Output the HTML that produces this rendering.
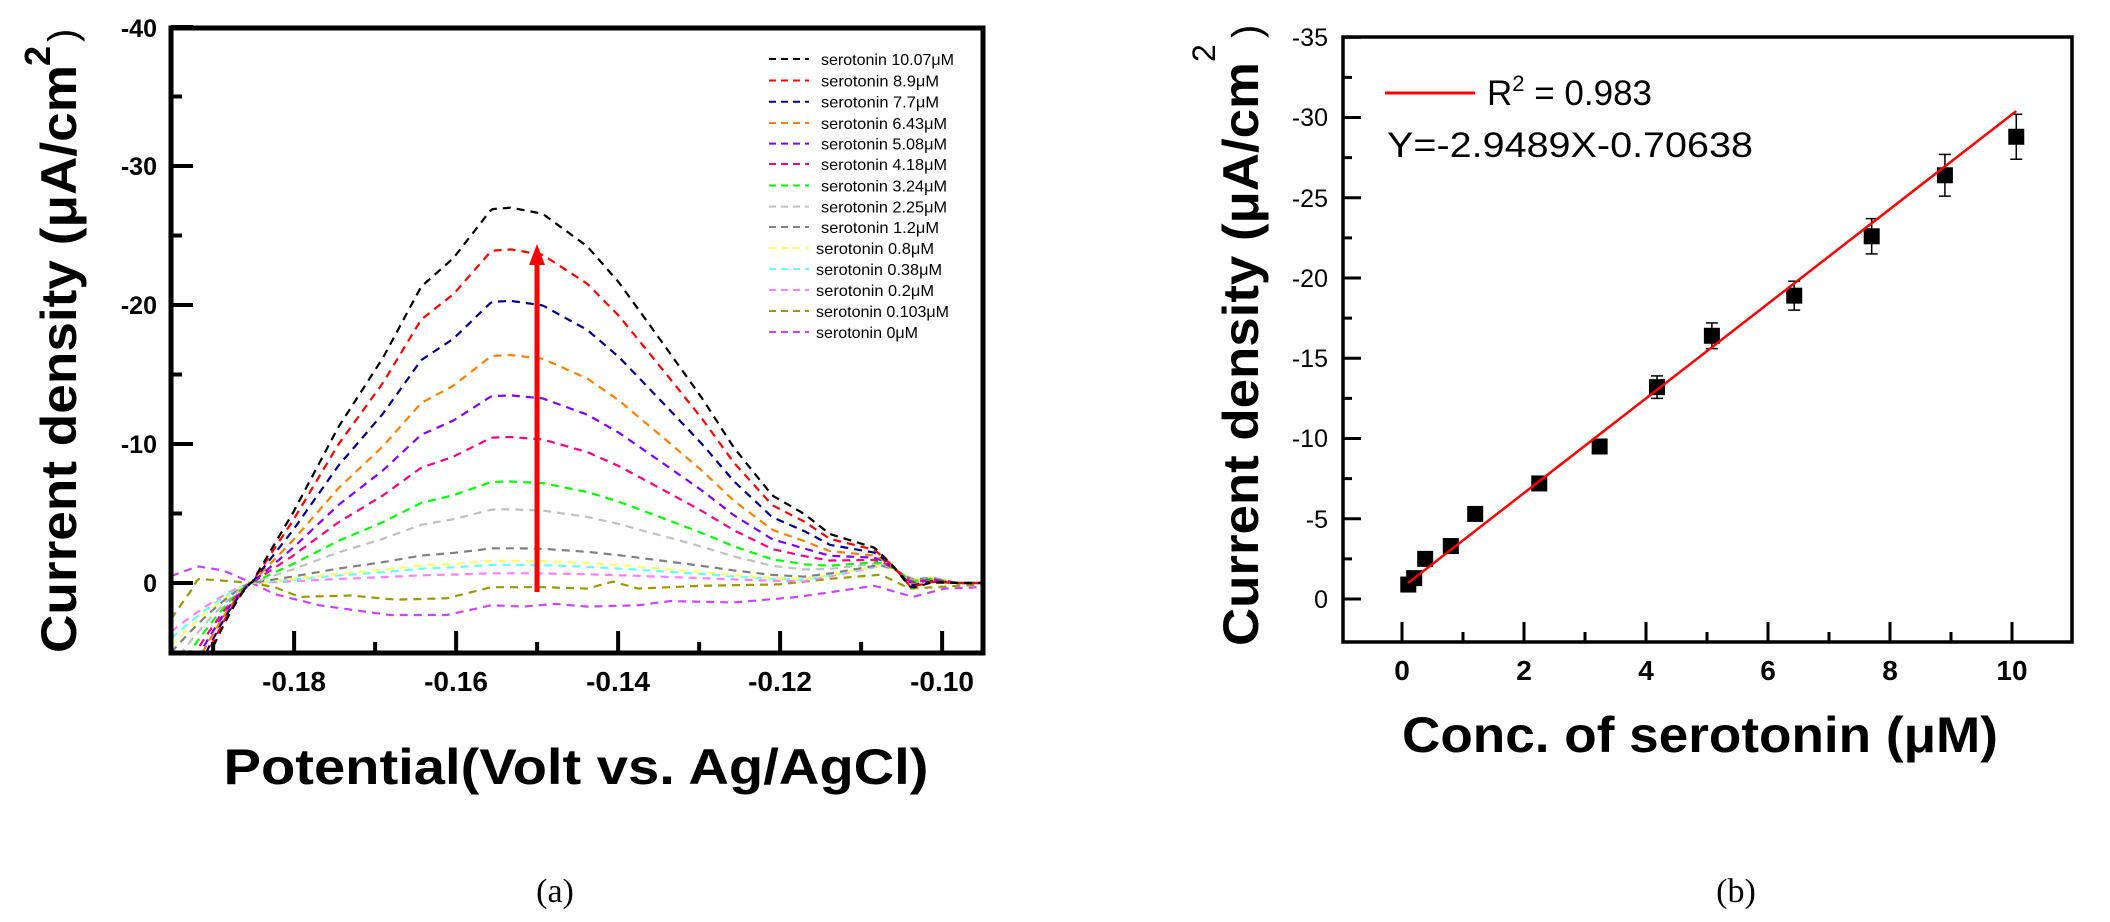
<!DOCTYPE html>
<html><head><meta charset="utf-8"><style>
html,body{margin:0;padding:0;background:#fff;}
svg{display:block;}
text{font-family:"Liberation Sans",sans-serif;}
text.serif{font-family:"Liberation Serif",serif;}
</style></head><body>
<svg id="s" width="2110" height="922" viewBox="0 0 2110 922" xmlns="http://www.w3.org/2000/svg">
<rect width="2110" height="922" fill="#fff"/>
<defs>
<clipPath id="cl"><rect x="171" y="28" width="812" height="625"/></clipPath>
</defs>
<g id="curves" clip-path="url(#cl)"></g>
<!-- arrow -->
<line x1="537" y1="592" x2="537" y2="262" stroke="#ff0000" stroke-width="5"/>
<polygon points="529,265 545,265 537,244" fill="#ff0000"/>
<!-- left frame -->
<rect x="171" y="28" width="812" height="625" fill="none" stroke="#000" stroke-width="5"/>
<g id="lticks" stroke="#000" stroke-width="4"></g>
<g font-weight="bold" font-size="25" text-anchor="end">
<text x="157" y="37">-40</text>
<text x="157" y="175">-30</text>
<text x="157" y="314">-20</text>
<text x="157" y="453">-10</text>
<text x="157" y="592">0</text>
</g>
<g font-weight="bold" font-size="28" text-anchor="middle">
<text x="294" y="691">-0.18</text>
<text x="456" y="691">-0.16</text>
<text x="618" y="691">-0.14</text>
<text x="780" y="691">-0.12</text>
<text x="942" y="691">-0.10</text>
</g>
<text x="576" y="784" font-weight="bold" font-size="50" text-anchor="middle" textLength="705" lengthAdjust="spacingAndGlyphs">Potential(Volt vs. Ag/AgCl)</text>
<text transform="translate(76,653) rotate(-90)" font-weight="bold" font-size="50" textLength="588" lengthAdjust="spacingAndGlyphs">Current density (μA/cm</text>
<text transform="translate(50,66) rotate(-90)" font-weight="bold" font-size="36">2</text>
<text transform="translate(76,42) rotate(-90)" font-size="40">)</text>
<text class="serif" x="555" y="902" font-size="34" text-anchor="middle">(a)</text>
<g id="legend" font-size="16"></g>

<!-- right plot -->
<rect x="1343" y="37" width="729" height="605" fill="none" stroke="#000" stroke-width="3.5"/>
<g id="rticks" stroke="#000" stroke-width="3"></g>
<g font-size="25" text-anchor="end">
<text x="1328" y="46">-35</text>
<text x="1328" y="126">-30</text>
<text x="1328" y="207">-25</text>
<text x="1328" y="287">-20</text>
<text x="1328" y="367">-15</text>
<text x="1328" y="447">-10</text>
<text x="1328" y="528">-5</text>
<text x="1328" y="608">0</text>
</g>
<g font-size="28" text-anchor="middle" font-weight="bold">
<text x="1402" y="680">0</text>
<text x="1524" y="680">2</text>
<text x="1646" y="680">4</text>
<text x="1768" y="680">6</text>
<text x="1890" y="680">8</text>
<text x="2012" y="680">10</text>
</g>
<text x="1700" y="752" font-weight="bold" font-size="50" text-anchor="middle" textLength="596" lengthAdjust="spacingAndGlyphs">Conc. of serotonin (μM)</text>
<text transform="translate(1258,646) rotate(-90)" font-weight="bold" font-size="50" textLength="584" lengthAdjust="spacingAndGlyphs">Current density (μA/cm</text>
<text transform="translate(1215,62) rotate(-90)" font-size="32">2</text>
<text transform="translate(1260,38) rotate(-90)" font-size="40">)</text>
<text class="serif" x="1736" y="902" font-size="34" text-anchor="middle">(b)</text>
<line x1="1385" y1="93" x2="1475" y2="93" stroke="#ff0000" stroke-width="3"/>
<text x="1487" y="105" font-size="35">R<tspan dy="-14" font-size="22">2</tspan><tspan dy="14"> = 0.983</tspan></text>
<text x="1387" y="157" font-size="35" textLength="366" lengthAdjust="spacingAndGlyphs">Y=-2.9489X-0.70638</text>
<g id="rdata"></g>
</svg>
<script>
var NS="http://www.w3.org/2000/svg";
function el(t,a,p){var e=document.createElementNS(NS,t);for(var k in a)e.setAttribute(k,a[k]);(p||document.getElementById('s')).appendChild(e);return e;}
var lt=document.getElementById('lticks');
function LX(v){return 171+(v+0.1952)/0.02*162;}
function LY(d){return 583-d*13.9;}
for(var v=-0.19;v<=-0.0995;v+=0.01){var x=LX(v);var maj=Math.abs(Math.round(v*100))%2==0;el('line',{x1:x,y1:653,x2:x,y2:653-(maj?22:11)},lt);}
for(var d=-5;d<=40;d+=5){var y=LY(d);var maj=d%10==0;el('line',{x1:171,y1:y,x2:171+(maj?22:11),y2:y},lt);}
var S=[[268,0],[395,0.002],[460,0.19],[530,0.415],[600,0.60],[660,0.79],[710,0.865],[770,0.996],[800,1],[850,0.984],[920,0.897],[970,0.8],[1040,0.635],[1100,0.492],[1150,0.36],[1210,0.233],[1260,0.184],[1300,0.129],[1370,0.09],[1400,0.04],[1425,0.0],[1540,0]];
function interp(arr,p){if(p<=arr[0][0])return arr[0][1];for(var i=1;i<arr.length;i++){if(p<=arr[i][0]){var a=arr[i-1],b=arr[i];return a[1]+(b[1]-a[1])*(p-a[0])/(b[0]-a[0]);}}return arr[arr.length-1][1];}
function tri(p,c,w){var t=1-Math.abs(p-c)/w;return t>0?t:0;}
var curves=[
['#000000',27.0,12],['#ff0000',24,11],['#00008b',20.3,10.5],['#ff8000',16.4,9.5],['#8000ff',13.5,9],['#ff0080',10.5,8],['#00ff00',7.3,7],['#c0c0c0',5.3,6],['#808080',2.5,5],['#ffff66',1.6,4.5],['#66ffff',1.3,4],['#ff80ff',0.7,3.5]];
var olive=[[268,-2.6],[300,-0.5],[310,0.3],[340,0.2],[395,0],[430,-0.3],[470,-1.0],[550,-0.9],[620,-1.2],[700,-1.1],[770,-0.3],[850,-0.3],[920,-0.4],[960,0.1],[1000,-0.4],[1100,-0.2],[1220,-0.1],[1300,0.3],[1380,0.6],[1425,-0.4],[1540,-0.1]];
var mag=[[268,0.5],[310,1.2],[350,0.9],[395,0],[430,-0.8],[500,-1.6],[610,-2.3],[700,-2.3],[770,-1.6],[820,-1.7],[870,-1.5],[920,-1.7],[1000,-1.6],[1050,-1.3],[1150,-1.4],[1250,-1.0],[1370,-0.2],[1430,-1.0],[1480,-0.4],[1540,-0.3]];
var g=document.getElementById('curves');
function pathFrom(fn){var s='';for(var p=268;p<=1545;p+=4){var x=171+(p-268)*0.6384;var y=LY(fn(p));s+=(s?'L':'M')+x.toFixed(1)+' '+y.toFixed(1);}return s;}
function draw(col,fn){el('path',{d:pathFrom(fn),fill:'none',stroke:col,'stroke-width':2.2,'stroke-dasharray':'8 6'},g);}
draw('#cc44ff',function(p){return interp(mag,p);});
draw('#999900',function(p){return interp(olive,p);});
for(var i=curves.length-1;i>=0;i--){(function(c){draw(c[0],function(p){var d=c[1]*interp(S,p);d+=1.2*tri(p,1380,120)*(1-c[1]/30);d-=0.4*tri(p,1430,30);if(p<395)d-=c[2]*Math.pow((395-p)/127,1.3);return d;});})(curves[i]);}
var lg=document.getElementById('legend');
var names=['serotonin 10.07μM','serotonin 8.9μM','serotonin 7.7μM','serotonin 6.43μM','serotonin 5.08μM','serotonin 4.18μM','serotonin 3.24μM','serotonin 2.25μM','serotonin 1.2μM','serotonin 0.8μM','serotonin 0.38μM','serotonin 0.2μM','serotonin 0.103μM','serotonin 0μM'];
var lcol=['#000000','#ff0000','#00008b','#ff8000','#8000ff','#ff0080','#00ff00','#c0c0c0','#808080','#ffff66','#66ffff','#ff80ff','#999900','#cc44ff'];
var rows=[59,80.5,101.7,123,143.6,164,185.5,206.6,227,248,269,290,311,332];
for(var i=0;i<14;i++){el('line',{x1:769,y1:rows[i],x2:809,y2:rows[i],stroke:lcol[i],'stroke-width':2,'stroke-dasharray':'7 5'},lg);
var t=el('text',{x:i<9?821:816,y:rows[i]+6,'font-size':16},lg);t.textContent=names[i];var L=names[i].length;t.setAttribute('textLength',(L*7.85).toFixed(0));t.setAttribute('lengthAdjust','spacingAndGlyphs');}
var rt=document.getElementById('rticks');
function RX(v){return 1402+v*61;}function RY(d){return 599-d*16.05;}
for(var v=0;v<=10;v++){el('line',{x1:RX(v),y1:642,x2:RX(v),y2:642-(v%2==0?20:10)},rt);}
for(var d=0;d<=35;d+=2.5){var y=RY(d);el('line',{x1:1343,y1:y,x2:1343+(d%5==0?18:9),y2:y},rt);}
var rd=document.getElementById('rdata');
var pts=[[0.103,0.9,0],[0.2,1.3,0],[0.38,2.5,0],[0.8,3.3,0],[1.2,5.3,0],[2.25,7.2,0],[3.24,9.5,0],[4.18,13.2,0.7],[5.08,16.4,0.8],[6.43,18.9,0.9],[7.7,22.6,1.1],[8.9,26.4,1.3],[10.07,28.8,1.4]];
pts.forEach(function(p){var x=RX(p[0]),y=RY(p[1]);if(p[2]){var y1=RY(p[1]+p[2]),y2=RY(p[1]-p[2]);el('line',{x1:x,y1:y1,x2:x,y2:y2,stroke:'#000','stroke-width':1.5},rd);el('line',{x1:x-6,y1:y1,x2:x+6,y2:y1,stroke:'#000','stroke-width':1.5},rd);el('line',{x1:x-6,y1:y2,x2:x+6,y2:y2,stroke:'#000','stroke-width':1.5},rd);}el('rect',{x:x-8,y:y-8,width:16,height:16,fill:'#000'},rd);});
el('line',{x1:RX(0.1),y1:RY(2.9489*0.1+0.70638),x2:RX(10.07),y2:RY(2.9489*10.07+0.70638),stroke:'#ff0000','stroke-width':2.5},rd);
</script>
</body></html>
